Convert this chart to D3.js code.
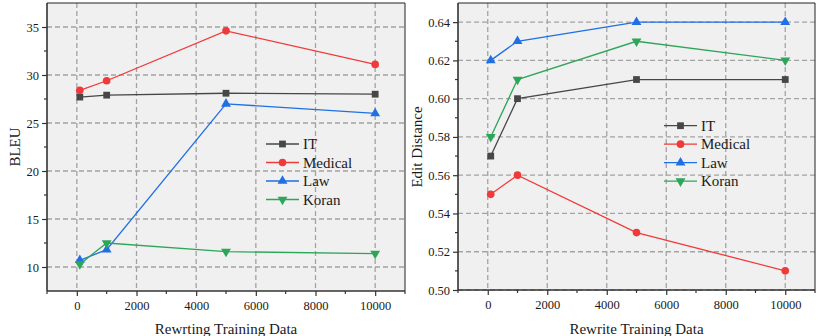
<!DOCTYPE html>
<html>
<head>
<meta charset="utf-8">
<script src="https://cdn.jsdelivr.net/npm/d3@7"></script>
<style>
  body { margin: 0; background: #fff; }
  svg { display: block; }
  text { font-family: "Liberation Serif", "DejaVu Serif", serif; fill: #1a1a1a; }
</style>
</head>
<body>
<svg id="chart" width="822" height="336"></svg>
<script>
// training data sizes (x)
var trainSizes = [100, 1000, 5000, 10000];
var domains = ["IT", "Medical", "Law", "Koran"];

// BLEU (left panel)
var bleuIT = [27.7, 27.9, 28.1, 28.0];
var bleuMedical = [28.4, 29.4, 34.6, 31.1];
var bleuLaw = [10.7, 11.8, 27.0, 26.0];
var bleuKoran = [10.3, 12.5, 11.6, 11.4];

// Edit distance (right panel)
var editIT = [0.57, 0.60, 0.61, 0.61];
var editMedical = [0.55, 0.56, 0.53, 0.51];
var editLaw = [0.62, 0.63, 0.64, 0.64];
var editKoran = [0.58, 0.61, 0.63, 0.62];

// ticks
var xTicks = [0, 2000, 4000, 6000, 8000, 10000];
var bleuTicks = [10, 15, 20, 25, 30, 35];
var editTicks = [0.50, 0.52, 0.54, 0.56, 0.58, 0.60, 0.62, 0.64];

var colors = ["#474747", "#f03a3a", "#1f6fe5", "#2ea65a"];
var shapes = [d3.symbolSquare, d3.symbolCircle, d3.symbolTriangle, "down"];
var serif = '"Liberation Serif", "DejaVu Serif", serif';

const svg = d3.select("#chart");

function marker(sel, i) {
    if (shapes[i] === "down") {
        sel.append("path")
            .attr("d", d3.symbol().type(d3.symbolTriangle).size(42)())
            .attr("transform", "rotate(180)")
            .attr("fill", colors[i]);
    } else {
        var size = i === 2 ? 42 : 46;
        sel.append("path")
            .attr("d", d3.symbol().type(shapes[i]).size(size)())
            .attr("fill", colors[i]);
    }
}

function panel(opts) {
    var x = d3.scaleLinear().domain([-1000, 11000]).range([opts.left, opts.right]);
    var y = d3.scaleLinear().domain(opts.yDomain).range([opts.bottom, opts.top]);
    var g = svg.append("g");

    // background
    g.append("rect")
        .attr("x", opts.left).attr("y", opts.top)
        .attr("width", opts.right - opts.left).attr("height", opts.bottom - opts.top)
        .attr("fill", "#f0f0f0");

    // grid
    g.selectAll(".gx").data(xTicks).join("line")
        .attr("x1", d => x(d)).attr("x2", d => x(d))
        .attr("y1", opts.top).attr("y2", opts.bottom)
        .attr("stroke", "#a3a3a3").attr("stroke-width", 1.3).attr("stroke-dasharray", "5,3");
    g.selectAll(".gy").data(opts.yTicks).join("line")
        .attr("x1", opts.left).attr("x2", opts.right)
        .attr("y1", d => y(d)).attr("y2", d => y(d))
        .attr("stroke", "#a3a3a3").attr("stroke-width", 1.3).attr("stroke-dasharray", "5,3");

    // top / right frame
    g.append("path")
        .attr("d", `M${opts.left},${opts.top}H${opts.right}V${opts.bottom}`)
        .attr("fill", "none").attr("stroke", "#222").attr("stroke-width", 1);

    // x axis
    var xMinor = d3.range(-1000, 11001, 1000).filter(d => xTicks.indexOf(d) < 0);
    var xAxis = d3.axisBottom(x).tickValues(xTicks).tickSize(5).tickPadding(5).tickFormat(d3.format("d"));
    var gx = g.append("g").attr("transform", `translate(0,${opts.bottom})`).call(xAxis);
    gx.selectAll(".minor").data(xMinor).enter()
        .append("line").attr("class", "minor").attr("x1", d => x(d)).attr("x2", d => x(d)).attr("y1", 0).attr("y2", 3)
        .attr("stroke", "#333").attr("stroke-width", 1.2);

    // y axis
    var yAxis = d3.axisLeft(y).tickValues(opts.yTicks).tickSize(5).tickPadding(3).tickFormat(opts.fmt);
    var gy = g.append("g").attr("transform", `translate(${opts.left},0)`).call(yAxis);
    gy.selectAll(".minor").data(opts.yMinor).enter()
        .append("line").attr("class", "minor").attr("x1", -3).attr("x2", 0)
        .attr("y1", d => y(d)).attr("y2", d => y(d))
        .attr("stroke", "#333").attr("stroke-width", 1.2);

    [gx, gy].forEach(function (a) {
        a.attr("font-family", serif);
        a.select(".domain").attr("stroke", "#333").attr("stroke-width", 1.6);
        a.selectAll(".tick line").attr("stroke", "#333").attr("stroke-width", 1.2);
        a.selectAll(".tick text").attr("font-size", 12.5).attr("fill", "#1a1a1a")
            .style("font-family", serif);
    });
    gx.select(".domain").attr("d", `M${opts.left},0H${opts.right}`);
    gy.select(".domain").attr("d", `M0,${opts.top}V${opts.bottom}`);

    // series
    var line = d3.line().x((d, i) => x(trainSizes[i])).y(d => y(d));
    opts.series.forEach(function (s, i) {
        g.append("path").datum(s).attr("d", line)
            .attr("fill", "none").attr("stroke", colors[i]).attr("stroke-width", 1.3);
        s.forEach(function (v, j) {
            var m = g.append("g").attr("transform", `translate(${x(trainSizes[j])},${y(v)})`);
            marker(m, i);
        });
    });

    // legend
    domains.forEach(function (name, i) {
        var ly = opts.legY + i * 18.5;
        var lg = g.append("g");
        lg.append("line").attr("x1", opts.legX).attr("x2", opts.legX + 33)
            .attr("y1", ly).attr("y2", ly).attr("stroke", colors[i]).attr("stroke-width", 1.3);
        var m = lg.append("g").attr("transform", `translate(${opts.legX + 16.5},${ly})`);
        marker(m, i);
        lg.append("text").attr("x", opts.legX + 37).attr("y", ly + 5)
            .attr("font-size", 15).style("font-family", serif).text(name);
    });

    // axis titles
    g.append("text")
        .attr("x", (x(0) + x(10000)) / 2).attr("y", 334)
        .attr("text-anchor", "middle").attr("font-size", 15)
        .style("font-family", serif)
        .text(opts.xTitle);
    g.append("text")
        .attr("transform", `translate(${opts.yTitleX},147) rotate(-90)`)
        .attr("text-anchor", "middle").attr("font-size", 15)
        .style("font-family", serif)
        .text(opts.yTitle);
}

panel({
    left: 47, right: 405, top: 3, bottom: 291,
    yDomain: [7.5, 37.5], yTicks: bleuTicks, yMinor: [12.5, 17.5, 22.5, 27.5, 32.5],
    fmt: d3.format("d"),
    series: [bleuIT, bleuMedical, bleuLaw, bleuKoran],
    legX: 266, legY: 144,
    xTitle: "Rewrting Training Data", yTitle: "BLEU", yTitleX: 20
});

panel({
    left: 458, right: 815, top: 3, bottom: 290,
    yDomain: [0.50, 0.65], yTicks: editTicks, yMinor: [0.51, 0.53, 0.55, 0.57, 0.59, 0.61, 0.63],
    fmt: d3.format(".2f"),
    series: [editIT, editMedical, editLaw, editKoran],
    legX: 664, legY: 125.7,
    xTitle: "Rewrite Training Data", yTitle: "Edit Distance", yTitleX: 422
});
</script>
</body>
</html>
